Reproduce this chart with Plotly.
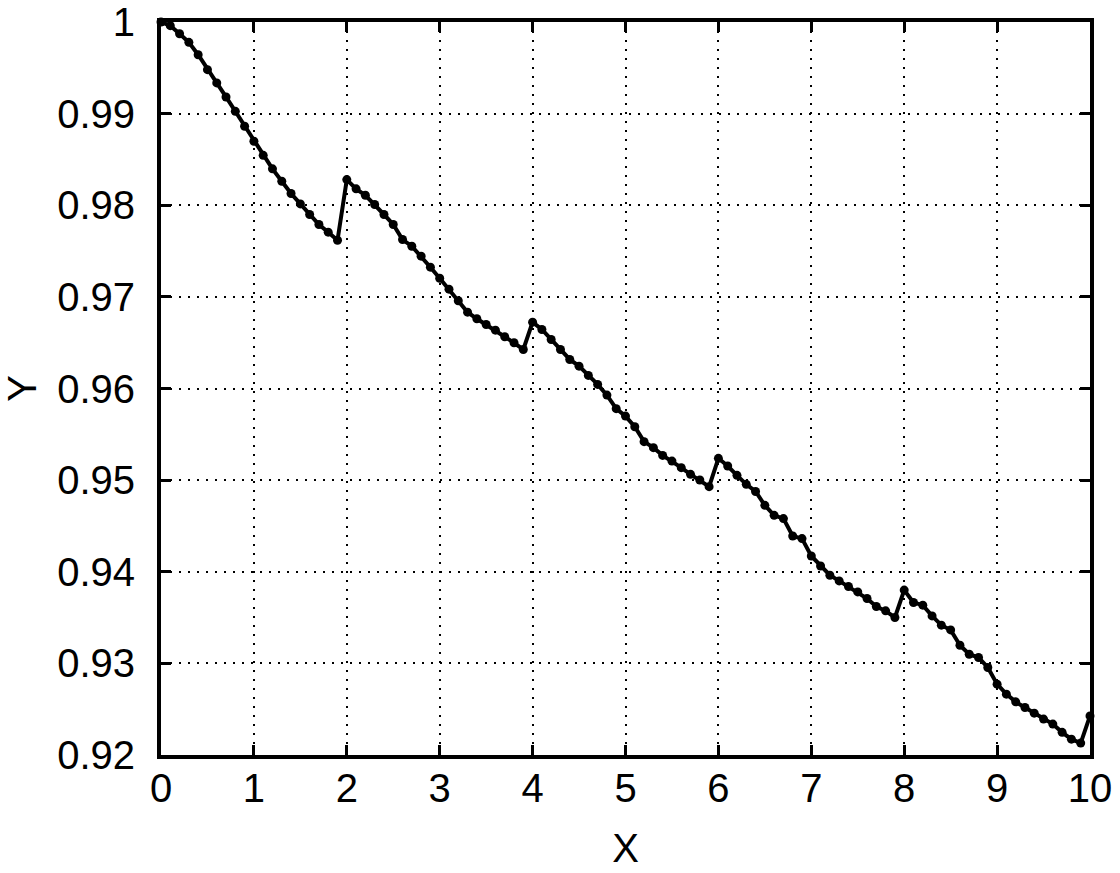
"""Line chart of Y against X, sampled every 0.1."""

import plotly.graph_objects as go

x_values = [round(i * 0.1, 1) for i in range(101)]
y_values = [
    1.0000, 0.9996, 0.99872, 0.99778, 0.99643, 0.9948, 0.99335, 0.99182,
    0.99025, 0.98862, 0.98698, 0.98545, 0.98397, 0.98262, 0.98128, 0.98015,
    0.97899, 0.9779, 0.97706, 0.97618,
    0.9828, 0.98179, 0.98109, 0.98008, 0.97899, 0.9779, 0.97626, 0.97553,
    0.97444, 0.97324, 0.97203, 0.97084, 0.96958, 0.96833, 0.96761, 0.96699,
    0.96637, 0.96565, 0.96499, 0.96426,
    0.96724, 0.96644, 0.96535, 0.96426, 0.96317, 0.96244, 0.96143, 0.96045,
    0.95928, 0.9578, 0.95699, 0.95583, 0.9542, 0.95354, 0.9527, 0.95208,
    0.95136, 0.95063, 0.95001, 0.94929,
    0.95238, 0.95154, 0.95052, 0.94954, 0.94876, 0.94725, 0.94616, 0.9458,
    0.9439, 0.94362, 0.94172, 0.94063, 0.93962, 0.939, 0.93839, 0.9378,
    0.93708, 0.93621, 0.93573, 0.93501,
    0.938, 0.93664, 0.93635, 0.93518, 0.93417, 0.93365, 0.93198, 0.931,
    0.93064, 0.92955, 0.92773, 0.92664, 0.9258, 0.92519, 0.92457, 0.92392,
    0.92337, 0.92247, 0.92173, 0.9213, 0.92427,
]
x_ticks = list(range(11))
y_ticks = [0.92, 0.93, 0.94, 0.95, 0.96, 0.97, 0.98, 0.99, 1]
y_tick_labels = ['0.92', '0.93', '0.94', '0.95', '0.96', '0.97', '0.98',
                 '0.99', '1']

fig = go.Figure()
fig.add_trace(
    go.Scatter(
        x=x_values,
        y=y_values,
        mode='lines+markers',
        line=dict(color='black', width=4),
        marker=dict(color='black', size=9),
        showlegend=False,
        cliponaxis=False,
    )
)

axis_style = dict(
    showline=True,
    linecolor='black',
    linewidth=4,
    mirror='allticks',
    ticks='inside',
    ticklen=10,
    tickwidth=3,
    tickcolor='black',
    showgrid=True,
    gridcolor='black',
    gridwidth=2,
    griddash='2px,7px',
    zeroline=False,
    automargin=False,
    ticklabeloverflow='allow',
    tickfont=dict(size=40, color='black'),
    title_font=dict(size=40, color='black'),
)

fig.update_xaxes(
    range=[0, 10],
    tickvals=x_ticks,
    title_text='X',
    title_standoff=26,
    ticklabelstandoff=-5,
    **axis_style,
)
fig.update_yaxes(
    range=[0.92, 1],
    tickvals=y_ticks,
    ticktext=y_tick_labels,
    title_text='Y',
    title_standoff=40,
    ticklabelstandoff=14,
    **axis_style,
)
fig.update_layout(
    width=1120,
    height=873,
    margin=dict(l=161, r=30, t=22, b=118),
    plot_bgcolor='white',
    paper_bgcolor='white',
    font=dict(family='Liberation Sans, Arial, sans-serif', color='black'),
)

# drop the default 8px body margin so the figure fills the window
fig.write_html(
    'out.html',
    config={'displayModeBar': False},
    post_script="document.body.style.margin = '0';",
)
